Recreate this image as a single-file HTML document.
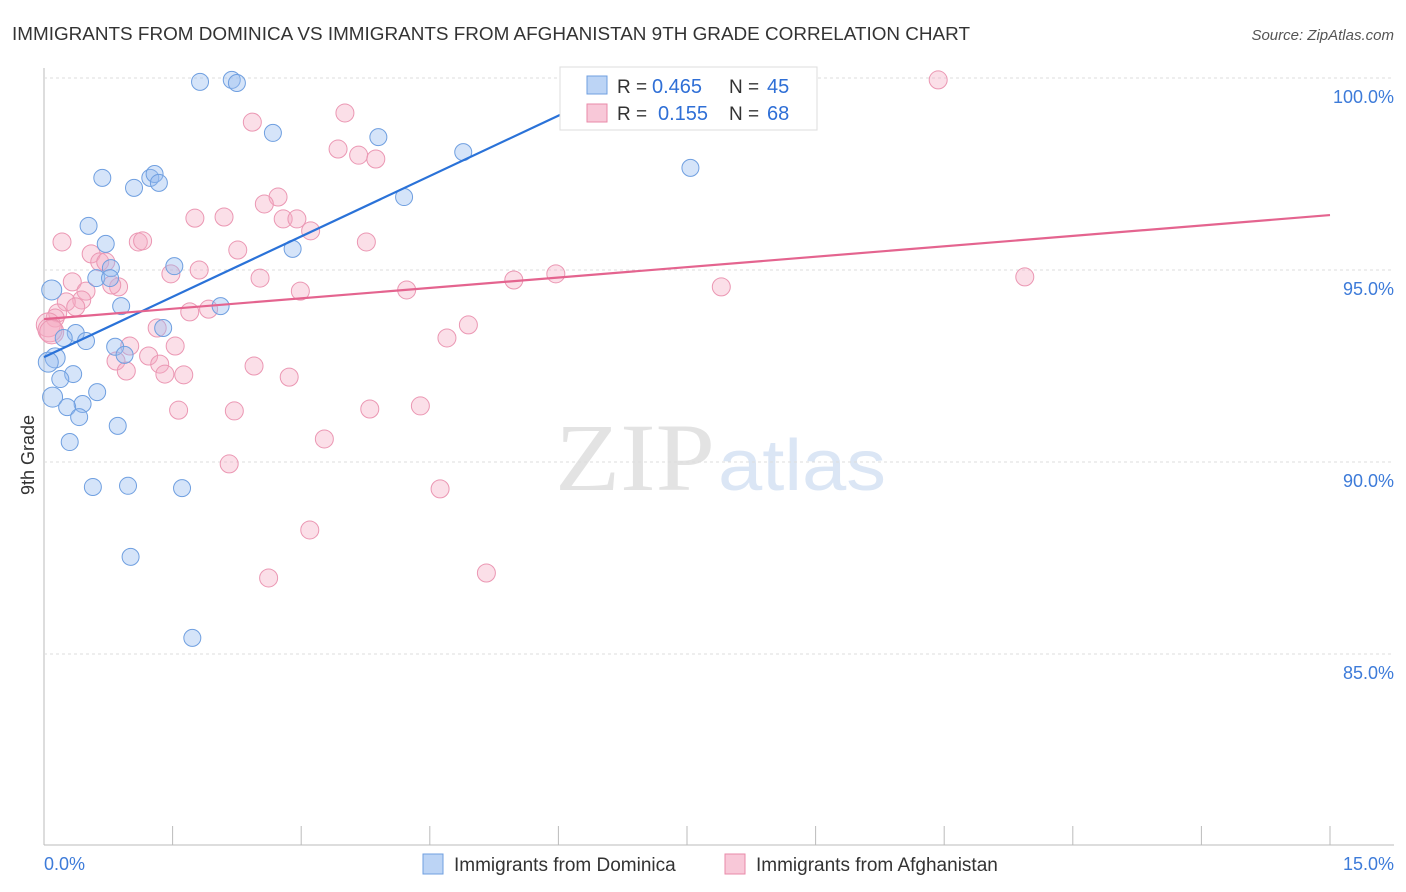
<!DOCTYPE html>
<html><head><meta charset="utf-8"><style>
body{margin:0;background:#fff;font-family:"Liberation Sans",sans-serif;}
svg{display:block}
</style></head><body>
<svg id="chart" width="1406" height="892">
<text x="12" y="40" font-size="18" fill="#333" textLength="958" lengthAdjust="spacingAndGlyphs">IMMIGRANTS FROM DOMINICA VS IMMIGRANTS FROM AFGHANISTAN 9TH GRADE CORRELATION CHART</text>
<text x="1394" y="40" font-size="15" fill="#555" text-anchor="end" font-style="italic">Source: ZipAtlas.com</text>
<text x="555" y="490" font-size="96" fill="#e3e3e3" textLength="160" lengthAdjust="spacingAndGlyphs" font-family="Liberation Serif">ZIP</text>
<text x="718" y="490" font-size="72" fill="#dbe6f5" textLength="168" lengthAdjust="spacingAndGlyphs">atlas</text>
<text transform="translate(34,455) rotate(-90)" font-size="18" fill="#333" text-anchor="middle">9th Grade</text>
<g id="grid"></g><g id="pts"></g><g id="trend"></g>
<g>
<rect x="560" y="67" width="257" height="63" fill="#fff" stroke="#ddd"/>
<rect x="587" y="76" width="20" height="18" fill="#bcd4f5" stroke="#6f9fe0"/>
<rect x="587" y="104" width="20" height="18" fill="#f8c8d8" stroke="#e98aa8"/>
<text x="617" y="93" font-size="19" fill="#333">R =</text>
<text x="652" y="93" font-size="20" fill="#2f6fd6">0.465</text>
<text x="729" y="93" font-size="19" fill="#333">N =</text>
<text x="767" y="93" font-size="20" fill="#2f6fd6">45</text>
<text x="617" y="120" font-size="19" fill="#333">R =</text>
<text x="658" y="120" font-size="20" fill="#2f6fd6">0.155</text>
<text x="729" y="120" font-size="19" fill="#333">N =</text>
<text x="767" y="120" font-size="20" fill="#2f6fd6">68</text>
</g>
<g>
<rect x="423" y="854" width="20" height="20" fill="#bcd4f5" stroke="#6f9fe0"/>
<text x="454" y="871" font-size="19" fill="#333">Immigrants from Dominica</text>
<rect x="725" y="854" width="20" height="20" fill="#f8c8d8" stroke="#e98aa8"/>
<text x="756" y="871" font-size="19" fill="#333">Immigrants from Afghanistan</text>
</g>
<text x="44" y="870" font-size="18" fill="#3d7bd9">0.0%</text>
<text x="1394" y="870" font-size="18" fill="#3d7bd9" text-anchor="end">15.0%</text>
</svg>
<script>
const yTicks=[100,95,90,85];
const xTicks=[0,1.5,3,4.5,6,7.5,9,10.5,12,13.5,15];
const blueX=[1.82,2.19,2.25,2.67,3.90,4.89,7.54,4.20,0.68,1.05,1.24,1.29,1.34,0.52,0.72,2.90,0.78,1.52,0.61,0.77,0.09,0.90,2.06,1.39,0.37,0.23,0.49,0.83,0.94,0.13,0.05,0.34,0.19,0.62,0.10,0.45,0.27,0.41,0.86,0.30,0.57,0.98,1.61,1.01,1.73];
const blueY=[99.90,99.95,99.87,98.57,98.46,98.07,97.66,96.90,97.40,97.14,97.40,97.50,97.27,96.15,95.68,95.55,95.05,95.10,94.79,94.79,94.48,94.06,94.06,93.49,93.36,93.23,93.15,93.00,92.79,92.71,92.60,92.29,92.16,91.82,91.69,91.51,91.43,91.17,90.94,90.52,89.35,89.38,89.32,87.53,85.42];
const pinkX=[6.88,10.43,3.51,2.43,3.43,3.67,3.87,2.73,2.57,1.76,2.10,2.79,2.95,3.11,0.21,1.10,1.15,3.76,2.26,0.55,0.65,0.72,1.81,1.48,2.52,5.48,5.97,11.44,7.90,4.23,2.99,0.33,0.49,0.87,0.79,0.44,0.26,0.37,1.92,1.70,0.16,0.13,0.05,0.07,1.32,4.95,4.70,1.53,1.00,1.22,0.84,1.35,0.96,2.45,1.41,1.63,2.86,1.57,2.22,3.80,4.39,3.27,2.16,4.62,3.10,2.62,5.16,0.09];
const pinkY=[99.95,99.95,99.09,98.85,98.15,97.99,97.89,96.90,96.72,96.35,96.38,96.33,96.33,96.02,95.73,95.73,95.76,95.73,95.52,95.42,95.21,95.21,95.00,94.90,94.79,94.74,94.90,94.82,94.56,94.48,94.45,94.69,94.45,94.56,94.61,94.22,94.17,94.04,93.98,93.91,93.88,93.75,93.57,93.44,93.49,93.57,93.23,93.02,93.02,92.76,92.63,92.55,92.37,92.50,92.29,92.27,92.21,91.35,91.33,91.38,91.46,90.60,89.95,89.30,88.23,86.98,87.11,93.39];
const blueTrend=[[0,92.73],[6.84,99.9]];
const pinkTrend=[[0,93.72],[15,96.43]];
const NS='http://www.w3.org/2000/svg';
const X=v=>44+v/15*1286;
const Y=v=>78+(100-v)/5*192;
function mk(tag,attrs,parent){const e=document.createElementNS(NS,tag);for(const k in attrs)e.setAttribute(k,attrs[k]);parent.appendChild(e);return e;}
const grid=document.getElementById('grid');
mk('line',{x1:44,y1:68,x2:44,y2:845,stroke:'#bbb'},grid);
mk('line',{x1:44,y1:845,x2:1394,y2:845,stroke:'#bbb'},grid);
yTicks.forEach(t=>{
 const l=mk('line',{x1:44,y1:Y(t),x2:1394,y2:Y(t),stroke:'#ddd','stroke-dasharray':'3,3'},grid);
 
 
 const tx=mk('text',{x:1394,y:Y(t)+25,'font-size':18,fill:'#3d7bd9','text-anchor':'end'},grid);
 tx.textContent=t.toFixed(1)+'%';
 
 
});
xTicks.forEach(t=>{
 const l=mk('line',{x1:X(t),y1:826,x2:X(t),y2:845,stroke:'#bbb'},grid);
 
 
});
const pts=document.getElementById('pts');
pinkX.forEach((x,i)=>{
 const c=mk('circle',{cx:X(x),cy:Y(pinkY[i]),r:(x<0.1?12:9),fill:'rgba(244,170,195,0.38)',stroke:'#eb97b3','stroke-width':1},pts);
 
 
});
blueX.forEach((x,i)=>{
 const c=mk('circle',{cx:X(x),cy:Y(blueY[i]),r:(x<0.15?10:8.5),fill:'rgba(150,188,240,0.4)',stroke:'#6f9fe0','stroke-width':1},pts);
 
 
});
const tr=document.getElementById('trend');
const b=mk('line',{x1:X(blueTrend[0][0]),y1:Y(blueTrend[0][1]),x2:X(blueTrend[1][0]),y2:Y(blueTrend[1][1]),stroke:'#2a72d8','stroke-width':2.2},tr);


const p=mk('line',{x1:X(pinkTrend[0][0]),y1:Y(pinkTrend[0][1]),x2:X(pinkTrend[1][0]),y2:Y(pinkTrend[1][1]),stroke:'#e4648f','stroke-width':2.2},tr);


</script>
</body></html>
